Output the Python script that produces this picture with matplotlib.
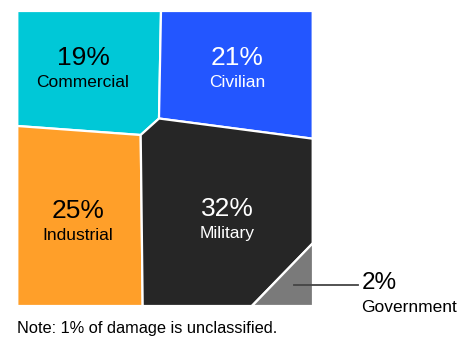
import matplotlib
matplotlib.use("Agg")
import matplotlib.pyplot as plt
from matplotlib.patches import Polygon

categories = ["Commercial", "Civilian", "Industrial", "Military", "Government"]
shares = [19, 21, 25, 32, 2]
colors = ["#00C8D7", "#2356FF", "#FF9F29", "#262626", "#7A7A7A"]
text_colors = ["black", "white", "black", "white", "black"]
note = "Note: 1% of damage is unclassified."

# Voronoi-treemap cell outlines (pixel-space layout)
L, T, R, B = 17.3, 11.0, 312.7, 306.0
cells = [
    [(L, T), (161.0, T), (159.0, 118.5), (140.7, 135.0), (L, 126.0)],
    [(161.0, T), (R, T), (R, 138.7), (159.0, 118.5)],
    [(L, 126.0), (140.7, 135.0), (142.7, B), (L, B)],
    [(159.0, 118.5), (R, 138.7), (R, 243.3), (251.7, B), (142.7, B), (140.7, 135.0)],
    [(R, 243.3), (R, B), (251.7, B)],
]
label_pos = [(83, 70), (237, 70), (78, 223), (227, 221)]

plt.rcParams["font.family"] = ["Liberation Sans", "DejaVu Sans"]
fig = plt.figure(figsize=(4.67, 3.53), dpi=100)
ax = fig.add_axes([0, 0, 1, 1])
ax.set_xlim(0, 467)
ax.set_ylim(353, 0)
ax.axis("off")

for poly, c in zip(cells, colors):
    ax.add_patch(Polygon(poly, closed=True, facecolor=c, edgecolor="white", linewidth=1.6, joinstyle="miter"))

for (x, y), cat, s, tc in zip(label_pos, categories[:4], shares[:4], text_colors[:4]):
    ax.text(x, y - 12, f"{s}%", ha="center", va="center", fontsize=19, color=tc)
    ax.text(x, y + 12.5, cat, ha="center", va="center", fontsize=12.5, color=tc)

# Government callout
ax.plot([294, 357.5], [285, 285], color="#444444", linewidth=1.3)
ax.text(361.5, 283, f"{shares[4]}%", ha="left", va="center", fontsize=17.5, color="black")
ax.text(361.5, 307.5, categories[4], ha="left", va="center", fontsize=12.5, color="black")

ax.text(17, 329, note, ha="left", va="center", fontsize=11.8, color="black")

fig.savefig("out.png", dpi=100)
